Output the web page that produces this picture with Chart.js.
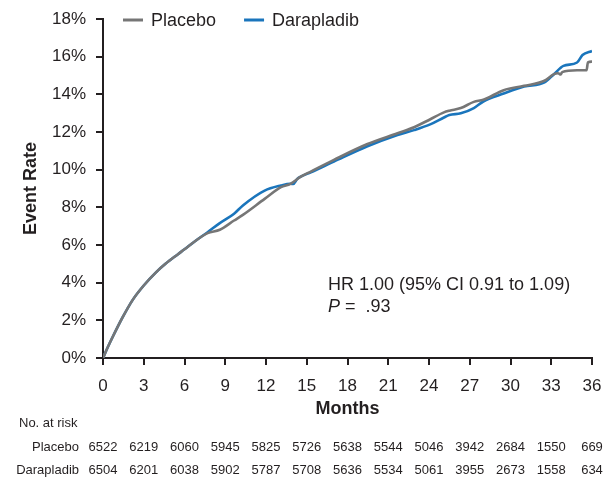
<!DOCTYPE html>
<html>
<head>
<meta charset="utf-8">
<script src="https://cdn.jsdelivr.net/npm/chart.js@4.4.1/dist/chart.umd.min.js"></script>
<style>
html,body{margin:0;padding:0;background:#fff;}
#wrap{width:609px;height:480px;position:relative;}
</style>
</head>
<body>
<div id="wrap"><canvas id="c" width="609" height="480"></canvas></div>
<script>
// ---- Data ----
const xTicks = [0, 3, 6, 9, 12, 15, 18, 21, 24, 27, 30, 33, 36];
const yTicks = [0, 2, 4, 6, 8, 10, 12, 14, 16, 18];

const placeboMonths = [0,0.35,0.7,1.4,2.2,3,3.9,4.6,5.5,6,6.7,7.7,8.6,9.65,10.3,11.9,13.1,13.8,14.56,15.3,17,19.47,21.68,22.9,24.13,25.1,25.5,26.34,27.3,28,29.5,31,32.5,33.2,33.5,33.7,33.8,34.9,35.6,35.7,36];
const placeboRate   = [0,0.57,1.1,2.1,3.1,3.85,4.55,5.0,5.5,5.77,6.16,6.63,6.81,7.3,7.6,8.45,9.07,9.25,9.63,9.9,10.52,11.36,11.93,12.25,12.69,13.04,13.13,13.27,13.6,13.71,14.22,14.45,14.72,15.07,15.12,15.05,15.18,15.28,15.28,15.7,15.74];

const darapladibMonths = [0,0.35,0.7,1.4,2.2,3,3.9,4.6,5.5,6,6.7,7.7,8.6,9.65,10.3,11.9,13.1,13.8,14.0,14.3,14.56,15.3,17,19.47,21.68,22.9,24.13,25.1,25.5,26.34,27.3,28,29.5,31,32.5,33.2,33.9,34.9,35.3,36];
const darapladibRate   = [0,0.57,1.1,2.1,3.1,3.85,4.55,5.0,5.5,5.77,6.16,6.68,7.16,7.66,8.1,8.89,9.16,9.25,9.24,9.51,9.63,9.86,10.43,11.24,11.84,12.1,12.42,12.77,12.9,12.99,13.27,13.62,14.04,14.41,14.63,15.07,15.51,15.69,16.09,16.3];

const seriesNames = ['Placebo', 'Darapladib'];
const atRiskPlacebo    = [6522,6219,6060,5945,5825,5726,5638,5544,5046,3942,2684,1550,669];
const atRiskDarapladib = [6504,6201,6038,5902,5787,5708,5636,5534,5061,3955,2673,1558,634];

const hrText = 'HR 1.00 (95% CI 0.91 to 1.09)';
const pText = ' =  .93';

// ---- Styles ----
const FONT = '"Liberation Sans", Arial, Helvetica, sans-serif';
const TXT = '#231f20';
const GRAY = '#767676';
const BLUE = '#1a75bc';

function toPts(xs, ys){ return xs.map((x,i)=>({x:x, y:ys[i]})); }

const extras = {
  id: 'extras',
  afterDraw(chart){
    const ctx = chart.ctx;
    const xs = chart.scales.x;
    const ca = chart.chartArea;
    ctx.save();
    ctx.fillStyle = TXT;
    // Legend
    ctx.font = '18px ' + FONT;
    ctx.textBaseline = 'middle';
    let lx = 123, ly = 20;
    chart.data.datasets.forEach((ds) => {
      ctx.strokeStyle = ds.borderColor;
      ctx.lineWidth = 3;
      ctx.beginPath(); ctx.moveTo(lx, ly); ctx.lineTo(lx + 20, ly); ctx.stroke();
      ctx.fillStyle = TXT;
      ctx.textAlign = 'left';
      ctx.fillText(ds.label, lx + 28, ly + 1);
      lx += 28 + ctx.measureText(ds.label).width + 28;
    });
    // Axis titles
    ctx.font = 'bold 18px ' + FONT;
    ctx.textAlign = 'center';
    ctx.fillText('Months', (ca.left + ca.right) / 2, 409);
    ctx.save();
    ctx.translate(31, (ca.top + ca.bottom) / 2);
    ctx.rotate(-Math.PI / 2);
    ctx.fillText('Event Rate', 0, 0);
    ctx.restore();
    // Annotation
    ctx.font = '18px ' + FONT;
    ctx.textAlign = 'left';
    ctx.fillText(hrText, 328, 285);
    ctx.font = 'italic 18px ' + FONT;
    ctx.fillText('P', 328, 307);
    const pw = ctx.measureText('P').width;
    ctx.font = '18px ' + FONT;
    ctx.fillText(pText, 328 + pw, 307);
    // Risk table
    ctx.font = '13px ' + FONT;
    ctx.textAlign = 'left';
    ctx.fillText('No. at risk', 19, 423);
    ctx.textAlign = 'right';
    ctx.fillText(seriesNames[0], 79, 447);
    ctx.fillText(seriesNames[1], 79, 470);
    ctx.textAlign = 'center';
    xTicks.forEach((m, i) => {
      const px = xs.getPixelForValue(m);
      ctx.fillText(String(atRiskPlacebo[i]), px, 447);
      ctx.fillText(String(atRiskDarapladib[i]), px, 470);
    });
    ctx.restore();
  }
};

new Chart(document.getElementById('c'), {
  type: 'line',
  data: {
    datasets: [
      { label: seriesNames[0], data: toPts(placeboMonths, placeboRate), borderColor: GRAY, borderWidth: 2.6, pointRadius: 0, cubicInterpolationMode: 'monotone', fill: false },
      { label: seriesNames[1], data: toPts(darapladibMonths, darapladibRate), borderColor: BLUE, borderWidth: 2.6, pointRadius: 0, cubicInterpolationMode: 'monotone', fill: false }
    ]
  },
  options: {
    responsive: false,
    animation: false,
    devicePixelRatio: 1,
    layout: { padding: { left: 0, right: 17, top: 19, bottom: 0 } },
    plugins: { legend: { display: false }, tooltip: { enabled: false } },
    scales: {
      x: {
        type: 'linear', min: 0, max: 36,
        afterBuildTicks: (s) => { s.ticks = xTicks.map(v => ({ value: v })); },
        afterFit: (s) => { s.height = 122; s.paddingLeft = 0; s.paddingRight = 0; },
        ticks: { color: TXT, font: { size: 17, family: FONT }, padding: 11, maxRotation: 0, autoSkip: false },
        grid: { display: true, drawOnChartArea: false, drawTicks: true, tickLength: 7, color: '#231f20', lineWidth: 2 },
        border: { display: true, color: '#231f20', width: 2 }
      },
      y: {
        type: 'linear', min: 0, max: 18,
        afterBuildTicks: (s) => { s.ticks = yTicks.map(v => ({ value: v })); },
        afterFit: (s) => { s.width = 103; s.paddingTop = 0; s.paddingBottom = 0; },
        ticks: { color: TXT, font: { size: 17, family: FONT }, padding: 10, callback: v => v + '%' },
        grid: { display: true, drawOnChartArea: false, drawTicks: true, tickLength: 7, color: '#231f20', lineWidth: 2 },
        border: { display: true, color: '#231f20', width: 2 }
      }
    }
  },
  plugins: [extras]
});
</script>
</body>
</html>
